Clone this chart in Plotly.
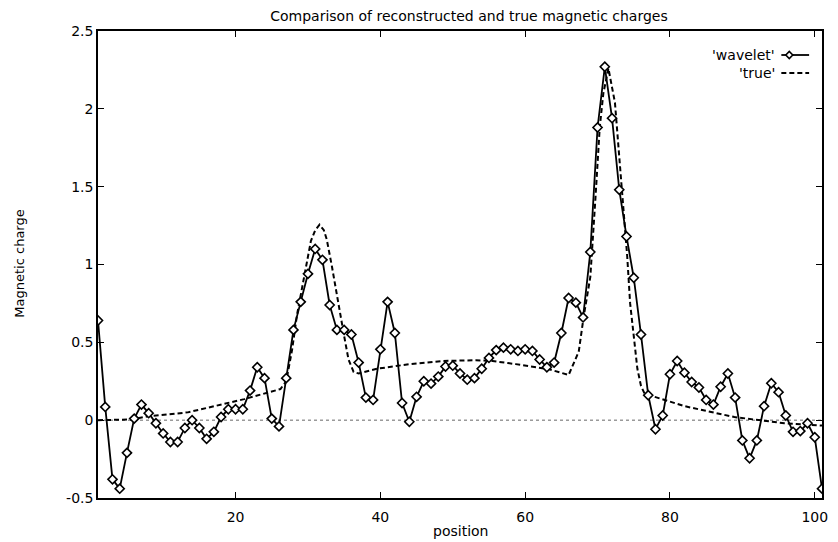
import plotly.graph_objects as go

# Reconstructed (wavelet) magnetic charge at each position
position = list(range(1, 102))
wavelet = [
    0.64, 0.085, -0.38, -0.44, -0.21, 0.01, 0.10, 0.045, -0.02, -0.085,
    -0.14, -0.14, -0.05, 0.0, -0.05, -0.12, -0.075, 0.02, 0.07, 0.07,
    0.07, 0.19, 0.34, 0.27, 0.01, -0.04, 0.27, 0.58, 0.76, 0.94,
    1.10, 1.03, 0.74, 0.58, 0.58, 0.55, 0.37, 0.145, 0.13, 0.455,
    0.76, 0.56, 0.11, -0.01, 0.15, 0.25, 0.235, 0.28, 0.345, 0.35,
    0.30, 0.26, 0.27, 0.33, 0.40, 0.45, 0.466, 0.455, 0.445, 0.455,
    0.445, 0.39, 0.34, 0.37, 0.56, 0.785, 0.755, 0.66, 1.08, 1.88,
    2.27, 1.94, 1.48, 1.18, 0.915, 0.55, 0.16, -0.058, 0.03, 0.295,
    0.38, 0.305, 0.245, 0.21, 0.13, 0.10, 0.215, 0.30, 0.145, -0.13,
    -0.245, -0.13, 0.09, 0.237, 0.18, 0.03, -0.075, -0.07, -0.02, -0.11,
    -0.44,
]

# True magnetic charge profile
true_x = [
    1.0, 5.8, 7.9, 13.4, 21.2, 26.2, 27.0, 27.8, 28.5, 29.5,
    30.4, 31.0, 31.6, 32.2, 32.6, 33.3, 34.3, 35.0, 35.6, 36.3,
    37.0, 39.5, 44.0, 48.6, 53.2, 55.5, 58.7, 63.3, 66.0, 67.4,
    68.1, 69.0, 69.7, 70.3, 70.8, 71.2, 71.5, 72.4, 73.0, 73.6,
    74.1, 74.5, 75.0, 75.5, 76.0, 76.5, 77.2, 82.0, 88.9, 95.8,
    101.0,
]
true_y = [
    0.0, 0.005, 0.025, 0.05, 0.135, 0.2, 0.25, 0.45, 0.68, 0.93,
    1.15, 1.22, 1.256, 1.22, 1.16, 0.99, 0.71, 0.54, 0.39, 0.31,
    0.30, 0.33, 0.36, 0.38, 0.385, 0.38, 0.36, 0.327, 0.29, 0.44,
    0.67, 0.92, 1.42, 1.88, 2.1, 2.2, 2.26, 2.04, 1.7, 1.35,
    1.05, 0.75, 0.55, 0.33, 0.22, 0.17, 0.16, 0.09, 0.02, -0.02,
    -0.035,
]

# Zero reference line
zero_x = [1, 101]
zero_y = [0, 0]

x_ticks = [20, 40, 60, 80, 100]
y_ticks = [-0.5, 0, 0.5, 1, 1.5, 2, 2.5]
y_tick_text = ["-0.5", "0", "0.5", "1", "1.5", "2", "2.5"]

FONT = "DejaVu Sans, Liberation Sans, sans-serif"
FS = 14

fig = go.Figure()

fig.add_trace(go.Scatter(
    x=zero_x, y=zero_y, mode="lines",
    line=dict(color="#666666", width=1, dash="dot"),
    hoverinfo="skip", showlegend=False,
))

fig.add_trace(go.Scatter(
    x=true_x, y=true_y, mode="lines", name="'true'",
    line=dict(color="black", width=2, dash="5px,3px"),
    showlegend=False,
))

fig.add_trace(go.Scatter(
    x=position, y=wavelet, mode="lines+markers", name="'wavelet'",
    line=dict(color="black", width=1.8),
    marker=dict(symbol="diamond", size=7, color="white",
                line=dict(color="black", width=1.6)),
    showlegend=False,
))

# Pixel helpers for the plot area (left 98, right 828, top 31, bottom 498)
W, H = 730.0, 467.0
def px_x(p):
    return (p - 98) / W
def px_y(p):
    return (498 - p) / H

# Key: label text followed by a line sample on its right
keys = [("'wavelet'", 55, "solid", True), ("'true'", 73, "5px,3px", False)]
shapes = []
annotations = []
for label, ypix, dash, with_marker in keys:
    annotations.append(dict(
        x=px_x(783), y=px_y(ypix), xref="paper", yref="paper",
        text=label, showarrow=False, xanchor="right", yanchor="middle",
        font=dict(family=FONT, size=FS, color="black"),
    ))
    shapes.append(dict(
        type="line", xref="paper", yref="paper",
        x0=px_x(787), x1=px_x(815), y0=px_y(ypix), y1=px_y(ypix),
        line=dict(color="black", width=1.8, dash=dash),
    ))
    if with_marker:
        cx, cy, r = 795, ypix, 3.5
        path = "M {},{} L {},{} L {},{} L {},{} Z".format(
            px_x(cx - r), px_y(cy), px_x(cx), px_y(cy - r),
            px_x(cx + r), px_y(cy), px_x(cx), px_y(cy + r))
        shapes.append(dict(
            type="path", xref="paper", yref="paper", path=path,
            fillcolor="white", line=dict(color="black", width=1.6),
        ))

# Axis titles
annotations.append(dict(
    x=px_x(464), y=px_y(531), xref="paper", yref="paper",
    text="position", showarrow=False, xanchor="center", yanchor="middle",
    font=dict(family=FONT, size=FS, color="black"),
))
annotations.append(dict(
    x=px_x(18), y=px_y(264), xref="paper", yref="paper",
    text="Magnetic charge", showarrow=False, textangle=-90,
    xanchor="center", yanchor="middle",
    font=dict(family=FONT, size=13, color="black"),
))

fig.update_layout(
    width=838, height=542,
    margin=dict(l=98, r=10, t=31, b=44),
    paper_bgcolor="white", plot_bgcolor="white",
    font=dict(family=FONT, size=FS, color="black"),
    title=dict(
        text="Comparison of reconstructed and true magnetic charges",
        x=px_x(469) * W / 838 + 98 / 838, xanchor="center",
        y=1 - 16 / 542, yanchor="middle",
        font=dict(family=FONT, size=FS, color="black"),
    ),
    shapes=shapes,
    annotations=annotations,
    showlegend=False,
)

fig.update_xaxes(
    range=[1, 101], tickvals=x_ticks, ticks="inside", ticklen=6,
    tickwidth=1.3, tickcolor="black", showgrid=False, zeroline=False,
    showline=True, linecolor="black", linewidth=1.5, mirror="ticks",
    ticklabelstandoff=5,
    tickfont=dict(family=FONT, size=FS),
)
fig.update_yaxes(
    range=[-0.5, 2.5], tickvals=y_ticks, ticktext=y_tick_text,
    ticks="inside", ticklen=6, tickwidth=1.3, tickcolor="black",
    showgrid=False, zeroline=False, showline=True, linecolor="black",
    linewidth=1.5, mirror="ticks",
    tickfont=dict(family=FONT, size=FS),
)

fig.write_html("out.html")
